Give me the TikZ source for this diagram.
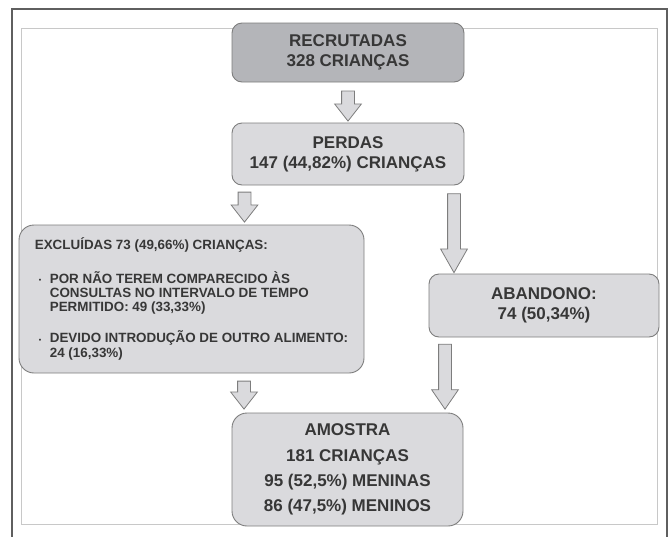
\documentclass[tikz,border=0pt]{standalone}
\usepackage{fontspec}
\setmainfont{Liberation Sans}
\usetikzlibrary{positioning,calc,shapes.arrows}
\definecolor{boxgray}{RGB}{218,218,221}
\definecolor{topgray}{RGB}{180,181,185}
\definecolor{edgegray}{RGB}{125,125,125}
\definecolor{txtgray}{RGB}{55,55,55}
\definecolor{framedark}{RGB}{95,95,95}
\definecolor{framelight}{RGB}{200,200,200}
\newcommand{\bul}{\hspace*{4pt}\makebox[11pt][l]{\raisebox{0.5pt}{\scriptsize •}}}
\newcommand{\ind}{\hspace*{15pt}}
\tikzset{
  box/.style    ={draw=edgegray, line width=0.9pt, rounded corners=10pt, fill=boxgray, align=center, inner sep=0pt, outer sep=0pt, text=txtgray, font=\fontsize{17}{20}\selectfont\bfseries},
  topbox/.style ={box, fill=topgray},
  bigbox/.style ={box, rounded corners=15pt, font=\fontsize{17}{25.3}\selectfont\bfseries},
  listbox/.style={box, rounded corners=15pt, align=left, font=\fontsize{13.4}{14.3}\selectfont\bfseries},
  darr/.style   ={single arrow, draw=edgegray, fill=boxgray, line width=0.8pt, rotate=-90, inner sep=6pt, outer sep=0pt, minimum width=26pt, single arrow head extend=7pt, single arrow tip angle=76},
  frm/.style    ={draw=framedark, line width=1.6pt},
  ifrm/.style   ={draw=framelight, line width=0.8pt},
}
\begin{document}
\begin{tikzpicture}[x=1pt, y=1pt]
  \useasboundingbox (0,0) rectangle (672,-536);
  \draw[frm] (12,-545) |- (667,-9) -- (667,-545);
  \draw[ifrm] (21,-28) rectangle (657,-524);
  \node[topbox, minimum width=232pt, minimum height=59pt] (rec) at (348,-52.5) {RECRUTADAS\\328 CRIANÇAS};
  \node[box, minimum width=232pt, minimum height=62pt, below=41pt of rec] (perd) {PERDAS\\147 (44,82\%) CRIANÇAS};
  \node[listbox, minimum width=345pt, minimum height=148pt] (excl) at (191.5,-299) {EXCLUÍDAS 73 (49,66\%) CRIANÇAS:\\[17.5pt]
    \bul POR NÃO TEREM COMPARECIDO ÀS\\ \ind CONSULTAS NO INTERVALO DE TEMPO\\ \ind PERMITIDO: 49 (33,33\%)\\[15.5pt]
    \bul DEVIDO INTRODUÇÃO DE OUTRO ALIMENTO:\\ \ind 24 (16,33\%)};
  \node[box, minimum width=230pt, minimum height=63pt] (aband) at (544,-305.5) {ABANDONO:\\74 (50,34\%)};
  \node[bigbox, minimum width=231pt, minimum height=113pt] (amos) at (347.5,-469.5) {AMOSTRA\\181 CRIANÇAS\\95 (52,5\%) MENINAS\\86 (47,5\%) MENINOS};
  \node[darr, minimum height=30pt] (a1) at ($(rec.south)+(0,-20)$) {};
  \node[darr, minimum height=30pt] (a2) at ($(perd.south)+(-103.5,-18)$) {};
  \node[darr, minimum height=79pt, single arrow tip angle=59] (a3) at ($(perd.south)+(106,-42.5)$) {};
  \node[darr, minimum height=28pt] (a4) at ($(excl.south)+(52.5,-18)$) {};
  \node[darr, minimum height=65pt, single arrow tip angle=69] (a5) at ($(aband.south)+(-99,-35)$) {};
\end{tikzpicture}
\end{document}
